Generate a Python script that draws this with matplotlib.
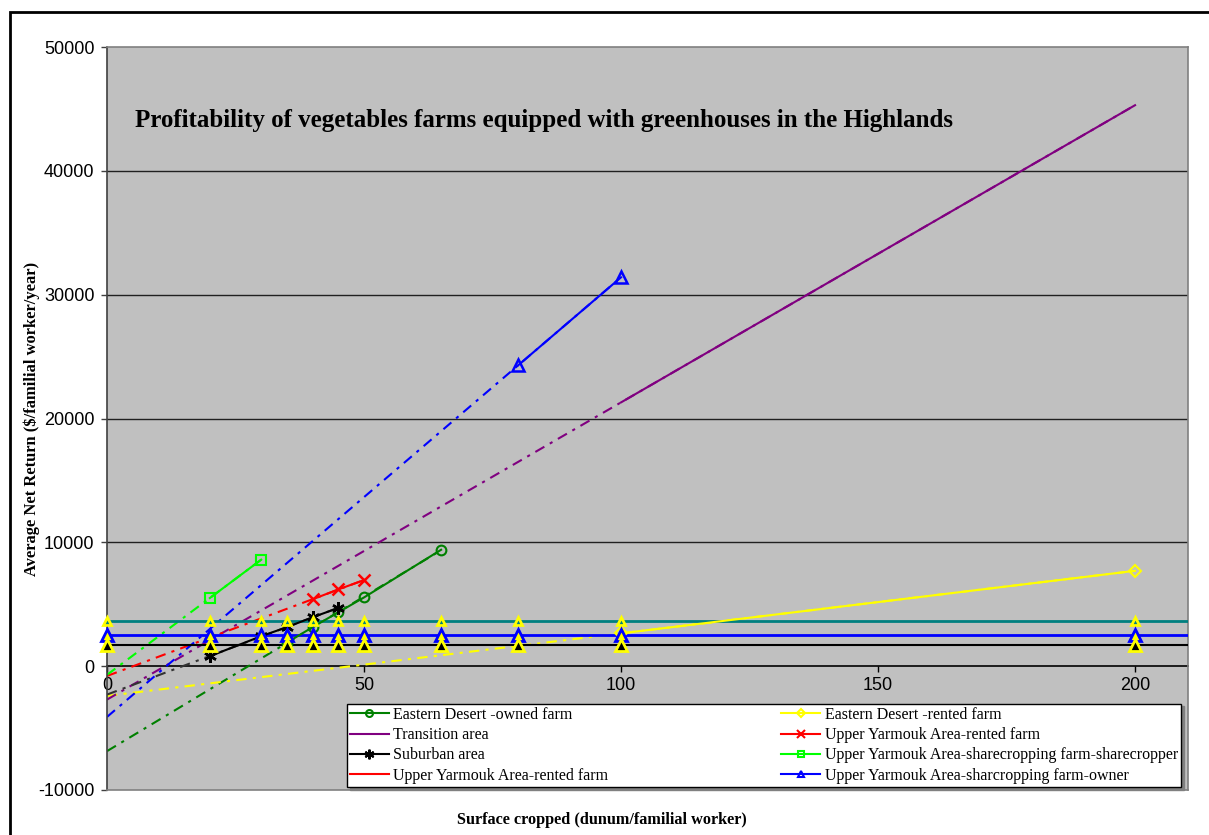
import numpy as np
import matplotlib
matplotlib.use("Agg")
import matplotlib.pyplot as plt
from matplotlib.lines import Line2D
from matplotlib.patches import Rectangle

# surface cropped (dunum/familial worker) and net return ($/familial worker/year)
eastern_owned_x = [35, 40, 45, 50, 65]
eastern_owned_y = [1900, 3150, 4350, 5550, 9400]
eastern_rented_x = [100, 200]
eastern_rented_y = [2650, 7700]
transition_x = [100, 200]
transition_y = [21300, 45300]
suburban_x = [20, 30, 35, 40, 45]
suburban_y = [800, 2420, 3150, 3950, 4700]
yarmouk_rented_x = [40, 45, 50]
yarmouk_rented_y = [5400, 6200, 6950]
sharecropper_x = [20, 30]
sharecropper_y = [5500, 8600]
owner_x = [80, 100]
owner_y = [24300, 31400]

# reference income levels, marked at each surface class
level_x = [0, 20, 30, 35, 40, 45, 50, 65, 80, 100, 200]
level_high = 3650
level_mid = 2500
level_low = 1700

x_ticks = [0, 50, 100, 150, 200]
y_ticks = [-10000, 0, 10000, 20000, 30000, 40000, 50000]

W, H = 1209, 835
fig = plt.figure(figsize=(W / 100, H / 100), dpi=100)
ax = fig.add_axes([107 / W, 1 - 790 / H, (1188 - 107) / W, (790 - 47) / H])
ax.set_facecolor("#C0C0C0")
ax.set_xlim(0, 210.3)
ax.set_ylim(-10000, 50000)

for s in ax.spines.values():
    s.set_color("#808080")
    s.set_linewidth(1.2)
ax.spines["left"].set_color("#404040")

for yv in [10000, 20000, 30000, 40000]:
    ax.axhline(yv, color="#202020", lw=1, zorder=1)

ax.set_xticks([])
ax.set_yticks(y_ticks)
ax.set_yticklabels([str(v) for v in y_ticks], family="Liberation Sans", fontsize=13)
ax.tick_params(axis="y", direction="out", length=4, width=1, pad=5, color="#404040")

# category axis crossing at zero
xa = ax.secondary_xaxis(1 / 6)
xa.set_xticks(x_ticks)
xa.set_xticklabels([str(v) for v in x_ticks], family="Liberation Sans", fontsize=13)
xa.tick_params(direction="out", length=4, width=1, pad=4)
xa.spines["bottom"].set_color("black")
xa.spines["bottom"].set_linewidth(1.2)

dashdot = (0, (5, 3, 1.5, 3))


def trend(x, y, color, lw=1.5):
    k, b = np.polyfit(x, y, 1)
    xs = np.array([0, max(x)])
    ax.plot(xs, k * xs + b, color=color, lw=lw, ls=dashdot, zorder=2)


trend(eastern_owned_x, eastern_owned_y, "#008000")
trend(eastern_rented_x, eastern_rented_y, "#FFFF00")
trend(transition_x, transition_y, "#800080")
trend(suburban_x, suburban_y, "#333333")
trend(yarmouk_rented_x, yarmouk_rented_y, "#FF0000")
trend(sharecropper_x, sharecropper_y, "#00FF00")
trend(owner_x, owner_y, "#0000FF")

# reference levels
ax.axhline(level_high, color="#008080", lw=2, zorder=3)
ax.axhline(level_mid, color="#0000FF", lw=2, zorder=3)
ax.axhline(level_low, color="black", lw=1.5, zorder=3)
ax.plot(level_x, [level_high] * len(level_x), ls="none", marker="^", ms=6,
        mfc="#008080", mec="#FFFF00", mew=2, zorder=5, clip_on=False)
ax.plot(level_x, [level_mid] * len(level_x), ls="none", marker="^", ms=9,
        mfc="#FFFF00", mec="#0000FF", mew=2, zorder=5, clip_on=False)
ax.plot(level_x, [level_low] * len(level_x), ls="none", marker="^", ms=8,
        mfc="black", mec="#FFFF00", mew=2, zorder=5, clip_on=False)

ax.plot(eastern_owned_x, eastern_owned_y, color="#008000", lw=1.5, marker="o",
        ms=7, mfc="none", mew=1.5, zorder=4)
ax.plot(eastern_rented_x, eastern_rented_y, color="#FFFF00", lw=1.5, marker="D",
        ms=6, mfc="none", mew=1.5, zorder=4)
ax.plot(transition_x, transition_y, color="#800080", lw=1.5, zorder=4)
ax.plot(suburban_x, suburban_y, color="black", lw=1.5, marker=(6, 2, 0),
        ms=9, mew=1.8, zorder=4)
ax.plot(yarmouk_rented_x, yarmouk_rented_y, color="#FF0000", lw=1.5, marker="x",
        ms=8, mew=1.8, zorder=4)
ax.plot(sharecropper_x, sharecropper_y, color="#00FF00", lw=1.5, marker="s",
        ms=7, mfc="none", mew=1.5, zorder=4)
ax.plot(owner_x, owner_y, color="#0000FF", lw=1.5, marker="^",
        ms=8, mfc="none", mew=1.8, zorder=4)

handles = [
    Line2D([], [], color="#008000", marker="o", ms=5, mfc="none", mew=1.5),
    Line2D([], [], color="#800080"),
    Line2D([], [], color="black", marker=(6, 2, 0), ms=7, mew=1.5),
    Line2D([], [], color="#FF0000"),
    Line2D([], [], color="#FFFF00", marker="D", ms=4, mfc="none", mew=1.5),
    Line2D([], [], color="#FF0000", marker="x", ms=6, mew=1.5),
    Line2D([], [], color="#00FF00", marker="s", ms=5, mfc="none", mew=1.5),
    Line2D([], [], color="#0000FF", marker="^", ms=5, mfc="none", mew=1.5),
]
labels = [
    "Eastern Desert -owned farm",
    "Transition area",
    "Suburban area",
    "Upper Yarmouk Area-rented farm",
    "Eastern Desert -rented farm",
    "Upper Yarmouk Area-rented farm",
    "Upper Yarmouk Area-sharecropping farm-sharecropper",
    "Upper Yarmouk Area-sharcropping farm-owner",
]
leg = fig.legend(handles, labels, ncol=2, loc="lower left",
                 bbox_to_anchor=(347 / W, 1 - 787 / H, (1181 - 347) / W, (787 - 705) / H),
                 mode="expand", borderaxespad=0, fancybox=False,
                 shadow={"color": "#808080", "alpha": 1},
                 prop={"family": "Liberation Serif", "size": 11.5},
                 handlelength=2.4, handletextpad=0.3, labelspacing=0.27,
                 borderpad=0.2, framealpha=1)
leg.get_frame().set_edgecolor("black")
leg.get_frame().set_linewidth(1)

fig.text(135 / W, 1 - 120 / H,
         "Profitability of vegetables farms equipped with greenhouses in the Highlands",
         family="Liberation Serif", weight="bold", fontsize=18, va="center", ha="left")
fig.text(32 / W, 1 - 419 / H, "Average Net Return ($/familial worker/year)",
         family="Liberation Serif", weight="bold", fontsize=11.9, rotation=90,
         va="center", ha="center")
fig.text(602 / W, 1 - 820 / H, "Surface cropped (dunum/familial worker)",
         family="Liberation Serif", weight="bold", fontsize=11.7, va="center", ha="center")

# chart border
fig.patches.append(Rectangle((10 / W, -0.05), 1.1, 1.05 - 12 / H, transform=fig.transFigure,
                             fill=False, lw=2, ec="black"))

fig.savefig("out.png", dpi=100)
